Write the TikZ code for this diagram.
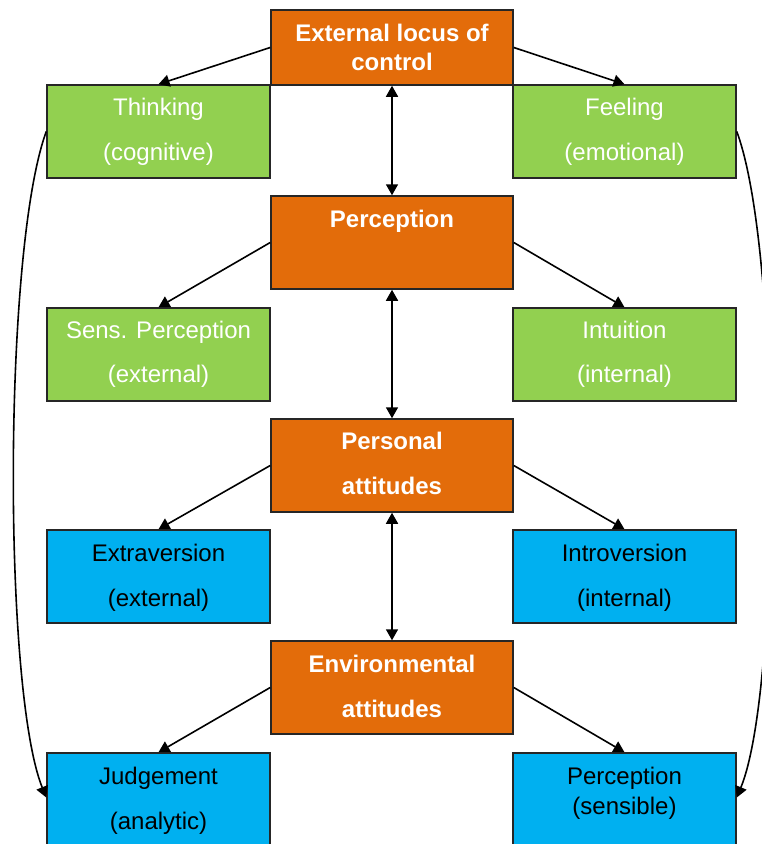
\documentclass[tikz,border=0pt]{standalone}
\usepackage{fontspec}
\setmainfont{Liberation Sans}
\usetikzlibrary{arrows.meta}
\definecolor{orangebox}{RGB}{227,108,10}
\definecolor{greenbox}{RGB}{146,208,80}
\definecolor{bluebox}{RGB}{0,176,240}
\tikzset{
  box/.style={draw=black!85, line width=1.5pt, minimum width=242pt, minimum height=93pt, inner sep=0pt},
  obox/.style={box, fill=orangebox},
  gbox/.style={box, fill=greenbox, minimum width=223pt},
  bbox/.style={box, fill=bluebox, minimum width=223pt},
  txt/.style={anchor=base, inner sep=0pt, font=\fontsize{24}{28}\selectfont},
  wtxt/.style={txt, text=white},
  btxt/.style={txt, text=black},
  otxt/.style={txt, text=white, font=\fontsize{24}{28}\selectfont\bfseries},
  conn/.style={line width=1.6pt, -{Triangle[length=11pt,width=12pt]}},
  dconn/.style={line width=1.6pt, {Triangle[length=11pt,width=12pt]}-{Triangle[length=11pt,width=12pt]}}
}
\begin{document}
\begin{tikzpicture}[x=1pt,y=-1pt]
\clip (0,0) rectangle (762,844);
\fill[white] (0,0) rectangle (762,844);
% boxes
\node[obox, minimum height=75pt] (ext) at (392,47.5) {};
\node[gbox] (think) at (158.5,131.5) {};
\node[gbox] (feel) at (624.5,131.5) {};
\node[obox] (perc) at (392,242.5) {};
\node[gbox] (sens) at (158.5,354.5) {};
\node[gbox] (intu) at (624.5,354.5) {};
\node[obox] (pers) at (392,465.5) {};
\node[bbox] (extra) at (158.5,576.5) {};
\node[bbox] (intro) at (624.5,576.5) {};
\node[obox] (env) at (392,687.5) {};
\node[bbox] (judg) at (158.5,799.5) {};
\node[bbox] (sensib) at (624.5,799.5) {};
% texts
\node[otxt] (ext1) at (392,41.5) {External locus of};
\node[otxt] (ext2) at (392,70.5) {control};
\node[wtxt] (think1) at (158.5,115.5) {Thinking};
\node[wtxt] (think2) at (158.5,160.5) {(cognitive)};
\node[wtxt] (feel1) at (624.5,115.5) {Feeling};
\node[wtxt] (feel2) at (624.5,160.5) {(emotional)};
\node[otxt] (perc1) at (392,227.5) {Perception};
\node[wtxt] (sens1) at (158.5,338.5) {Sens. Perception};
\node[wtxt] (sens2) at (158.5,382.5) {(external)};
\node[wtxt] (intu1) at (624.5,338.5) {Intuition};
\node[wtxt] (intu2) at (624.5,382.5) {(internal)};
\node[otxt] (pers1) at (392,449.5) {Personal};
\node[otxt] (pers2) at (392,494.5) {attitudes};
\node[btxt] (extra1) at (158.5,561.5) {Extraversion};
\node[btxt] (extra2) at (158.5,606.5) {(external)};
\node[btxt] (intro1) at (624.5,561.5) {Introversion};
\node[btxt] (intro2) at (624.5,606.5) {(internal)};
\node[otxt] (env1) at (392,672.5) {Environmental};
\node[otxt] (env2) at (392,717.5) {attitudes};
\node[btxt] (judg1) at (158.5,784.5) {Judgement};
\node[btxt] (judg2) at (158.5,829.5) {(analytic)};
\node[btxt] (sensib1) at (624.5,784.5) {Perception};
\node[btxt] (sensib2) at (624.5,814.5) {(sensible)};
% connectors
\draw[conn] (ext.west) -- (think.north);
\draw[conn] (ext.east) -- (feel.north);
\draw[conn] (perc.west) -- (sens.north);
\draw[conn] (perc.east) -- (intu.north);
\draw[conn] (pers.west) -- (extra.north);
\draw[conn] (pers.east) -- (intro.north);
\draw[conn] (env.west) -- (judg.north);
\draw[conn] (env.east) -- (sensib.north);
\draw[dconn] (ext.south) -- (perc.north);
\draw[dconn] (perc.south) -- (pers.north);
\draw[dconn] (pers.south) -- (env.north);
\draw[conn] (think.west) .. controls (3,250) and (3,690) .. ([yshift=2pt]judg.west);
\draw[conn] (feel.east) .. controls (781,250) and (781,690) .. ([yshift=2pt]sensib.east);
\end{tikzpicture}
\end{document}
